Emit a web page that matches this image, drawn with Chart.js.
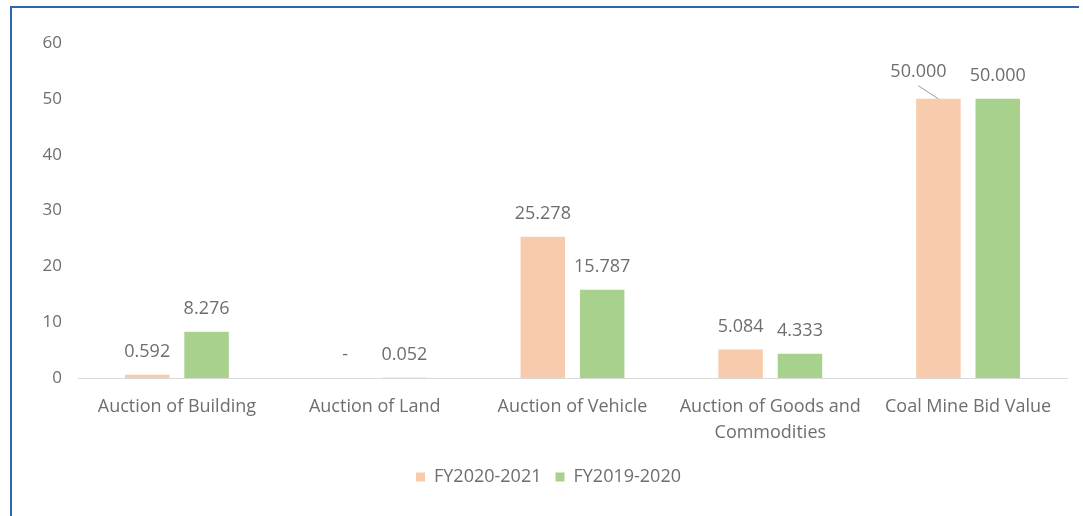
<!DOCTYPE html>
<html>
<head>
<meta charset="utf-8">
<script src="https://cdn.jsdelivr.net/npm/chart.js@4.4.1/dist/chart.umd.min.js"></script>
<style>
  html, body { margin: 0; padding: 0; background: #fff; }
  #wrap { position: relative; width: 1083px; height: 516px; overflow: hidden; }
  #frame { position: absolute; left: 10px; top: 6px; width: 1067px; height: 530px;
           border-left: 2px solid #2f66b3; border-top: 2px solid #2f66b3; }
  canvas { position: absolute; left: 0; top: 0; }
</style>
</head>
<body>
<div id="wrap">
  <div id="frame"></div>
  <canvas id="chart" width="1083" height="516"></canvas>
</div>
<script>
// values (crores)
const categories = [
  'Auction of Building',
  'Auction of Land',
  'Auction of Vehicle',
  ['Auction of Goods and', 'Commodities'],
  'Coal Mine Bid Value'
];
const fy2021 = [0.592, 0, 25.278, 5.084, 50.000];
const fy2020 = [8.276, 0.052, 15.787, 4.333, 50.000];
const seriesNames = ['FY2020-2021', 'FY2019-2020'];

const textColor = '#6e6e6e';
const fontFamily = '"Open Sans", "Noto Sans", sans-serif';

// Excel moved one label aside and drew a leader line to its bar
const labelShift = { '0:4': { dx: -20, dy: -4 } };

const valueLabels = {
    id: 'valueLabels',
    afterDatasetsDraw(chart) {
        const ctx = chart.ctx;
        ctx.save();
        ctx.font = '18px ' + fontFamily;
        ctx.fillStyle = textColor;
        ctx.textAlign = 'center';
        ctx.textBaseline = 'middle';
        chart.data.datasets.forEach((ds, di) => {
            chart.getDatasetMeta(di).data.forEach((bar, i) => {
                const v = ds.data[i];
                const txt = v === 0 ? '-' : v.toFixed(3);
                let x = bar.x;
                let y = bar.y - 23;
                const off = labelShift[di + ':' + i];
                if (off) {
                    x += off.dx;
                    y += off.dy;
                    ctx.strokeStyle = '#9a9a9a';
                    ctx.lineWidth = 1;
                    ctx.beginPath();
                    ctx.moveTo(x, y + 14);
                    ctx.lineTo(bar.x, bar.y);
                    ctx.stroke();
                }
                ctx.fillText(txt, x, y);
            });
        });
        ctx.restore();
    }
};

new Chart(document.getElementById('chart'), {
    type: 'bar',
    data: {
        labels: categories,
        datasets: [{
            label: seriesNames[0],
            data: fy2021,
            backgroundColor: '#f8cbad'
        }, {
            label: seriesNames[1],
            data: fy2020,
            backgroundColor: '#a9d18e'
        }]
    },
    options: {
        responsive: false,
        animation: false,
        datasets: {
            bar: {
                categoryPercentage: 0.6,
                barPercentage: 0.75
            }
        },
        layout: {
            padding: { left: 30, right: 16, top: 43, bottom: 20 }
        },
        plugins: {
            legend: {
                position: 'bottom',
                labels: {
                    boxWidth: 9,
                    boxHeight: 9,
                    padding: 14,
                    color: textColor,
                    font: { size: 18, family: fontFamily }
                }
            },
            tooltip: { enabled: false }
        },
        scales: {
            x: {
                grid: { display: false },
                border: { display: true, color: '#d9d9d9' },
                ticks: {
                    color: textColor,
                    padding: 8,
                    maxRotation: 0,
                    autoSkip: false,
                    font: { size: 18, family: fontFamily, lineHeight: 1.45 }
                },
                afterFit(scale) {
                    scale.height = 76;
                }
            },
            y: {
                min: 0,
                max: 60,
                grid: { display: false },
                border: { display: false },
                ticks: {
                    stepSize: 10,
                    padding: 8,
                    color: textColor,
                    font: { size: 17, family: fontFamily }
                },
                afterFit(scale) {
                    scale.width = 48;
                }
            }
        }
    },
    plugins: [valueLabels]
});
</script>
</body>
</html>
